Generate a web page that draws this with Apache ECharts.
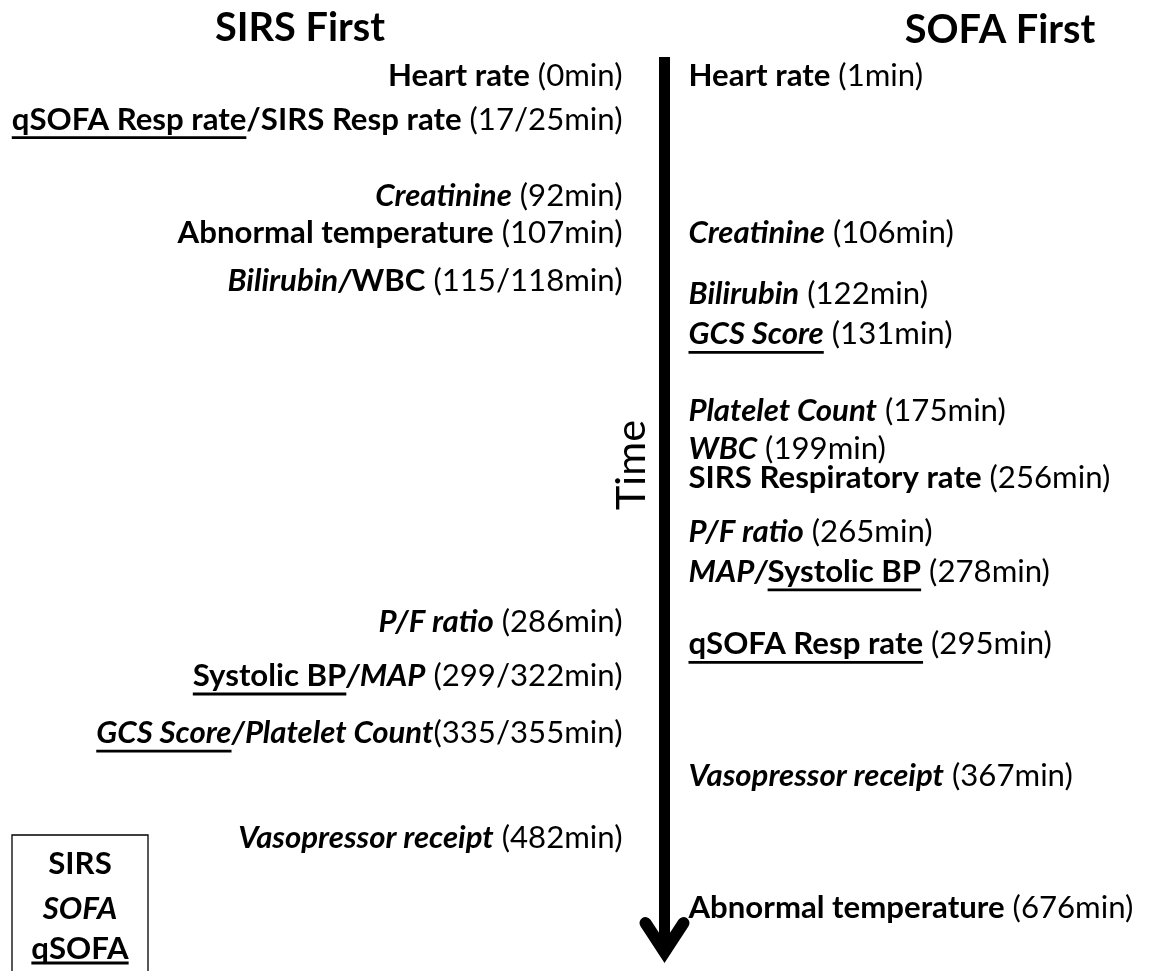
<!DOCTYPE html>
<html>
<head>
<meta charset="utf-8">
<script src="https://cdn.jsdelivr.net/npm/echarts@6/dist/echarts.min.js"></script>
<style>
html,body{margin:0;padding:0;background:#fff;}
#chart{width:1165px;height:971px;}
</style>
</head>
<body>
<div id="chart"></div>
<script>
// ---------------- DATA ----------------
// Column titles
const columnTitles = ['SIRS First', 'SOFA First'];
const axisName = 'Time';

// "SIRS First" column: event names, the score each one belongs to, minutes, place along the time arrow (% of arrow)
const sirsFirstItems = [
  ['Heart rate'],
  ['qSOFA Resp rate', 'SIRS Resp rate'],
  ['Creatinine'],
  ['Abnormal temperature'],
  ['Bilirubin', 'WBC'],
  ['P/F ratio'],
  ['Systolic BP', 'MAP'],
  ['GCS Score', 'Platelet Count'],
  ['Vasopressor receipt']
];
const sirsFirstScores = [
  ['SIRS'], ['qSOFA', 'SIRS'], ['SOFA'], ['SIRS'], ['SOFA', 'SIRS'],
  ['SOFA'], ['qSOFA', 'SOFA'], ['SOFA/qSOFA', 'SOFA'], ['SOFA']
];
const sirsFirstMinutes = [[0], [17, 25], [92], [107], [115, 118], [286], [299, 322], [335, 355], [482]];
const sirsFirstPlace = [2.0, 6.8, 15.2, 19.3, 24.6, 62.2, 68.2, 74.5, 86.1];
const sirsFirstNoSpace = [7]; // "Platelet Count(335/355min)" is written without a space

// "SOFA First" column
const sofaFirstItems = [
  ['Heart rate'],
  ['Creatinine'],
  ['Bilirubin'],
  ['GCS Score'],
  ['Platelet Count'],
  ['WBC'],
  ['SIRS Respiratory rate'],
  ['P/F ratio'],
  ['MAP', 'Systolic BP'],
  ['qSOFA Resp rate'],
  ['Vasopressor receipt'],
  ['Abnormal temperature']
];
const sofaFirstScores = [
  ['SIRS'], ['SOFA'], ['SOFA'], ['SOFA/qSOFA'], ['SOFA'], ['SOFA'],
  ['SIRS'], ['SOFA'], ['SOFA', 'qSOFA'], ['qSOFA'], ['SOFA'], ['SIRS']
];
const sofaFirstMinutes = [[1], [106], [122], [131], [175], [199], [256], [265], [278], [295], [367], [676]];
const sofaFirstPlace = [2.0, 19.3, 26.0, 30.5, 39.0, 43.2, 46.4, 52.3, 56.7, 64.7, 79.3, 93.8];
const sofaFirstNoSpace = [];

// Legend (key of text styles)
const legendScores = ['SIRS', 'SOFA', 'qSOFA'];

// The time arrow runs over the whole axis
const timeArrow = [0, 100];

// ---------------- HELPERS ----------------
const FAMILY = 'Lato, "Open Sans", "DejaVu Sans", sans-serif';
const measureCanvas = document.createElement('canvas');
const mctx = measureCanvas.getContext('2d');

function fontStr(italic, weight, size) {
  return (italic ? 'italic' : 'normal') + ' ' + weight + ' ' + size.toFixed(2) + 'px ' + FAMILY;
}
function textWidth(text, font) {
  mctx.font = font;
  return mctx.measureText(text).width;
}
function capMetrics(font) {
  mctx.font = font;
  mctx.textBaseline = 'middle';
  const m = mctx.measureText('H');
  return { asc: m.actualBoundingBoxAscent, desc: m.actualBoundingBoxDescent };
}

function buildSegments(names, scores, mins, tight) {
  const segs = [];
  names.forEach(function (n, j) {
    const tags = scores[j].split('/');
    const it = tags.indexOf('SOFA') >= 0;
    const ul = tags.indexOf('qSOFA') >= 0;
    if (j > 0) {
      const prevIt = segs[segs.length - 1].italic;
      segs.push({ text: '/', bold: true, italic: prevIt || it, underline: false });
    }
    segs.push({ text: n, bold: true, italic: it, underline: ul });
  });
  segs.push({ text: (tight ? '' : ' ') + '(' + mins.join('/') + 'min)', bold: false, italic: false, underline: false });
  return segs;
}

function segFont(seg, size) {
  return fontStr(seg.italic, seg.bold ? 'bold' : 'normal', size);
}

// Fit font sizes so the text widths match the figure
const refSegs = buildSegments(sirsFirstItems[1], sirsFirstScores[1], sirsFirstMinutes[1], false);
let w33 = 0;
refSegs.forEach(function (s) { w33 += textWidth(s.text, segFont(s, 33)); });
const LABEL_SIZE = Math.max(24, Math.min(36, 33 * 611 / w33));
const TITLE_SIZE = 40 * 170 / textWidth(columnTitles[0], fontStr(false, 'bold', 40));
const TIME_SIZE = 40 * 90 / textWidth(axisName, fontStr(false, 'normal', 40));

const capLabel = capMetrics(fontStr(false, 'bold', LABEL_SIZE));
const LABEL_SHIFT = -(capLabel.desc - capLabel.asc) / 2; // add to cap-centre y to get text 'middle' y
const UL_OFFSET = capLabel.desc + LABEL_SIZE * 0.26;      // underline below 'middle' y
const UL_WIDTH = 2.8;

const LEFT_GAP = 42;
const RIGHT_GAP = 24;

function makeLabelRenderer(items, scores, minutes, noSpace, side) {
  return function (params, api) {
    const i = api.value(2);
    const pt = api.coord([api.value(0), api.value(1)]);
    const segs = buildSegments(items[i], scores[i], minutes[i], noSpace.indexOf(i) >= 0);
    const widths = segs.map(function (s) { return textWidth(s.text, segFont(s, LABEL_SIZE)); });
    const total = widths.reduce(function (a, b) { return a + b; }, 0);
    let x = side === 'left' ? pt[0] - LEFT_GAP - total : pt[0] + RIGHT_GAP;
    const y = pt[1] + LABEL_SHIFT;
    const children = [];
    segs.forEach(function (s, k) {
      children.push({
        type: 'text', x: x, y: y,
        style: {
          text: s.text, font: segFont(s, LABEL_SIZE), fill: '#000',
          textAlign: 'left', align: 'left', textVerticalAlign: 'middle', verticalAlign: 'middle'
        }
      });
      if (s.underline) {
        children.push({
          type: 'line',
          shape: { x1: x, y1: y + UL_OFFSET, x2: x + widths[k], y2: y + UL_OFFSET },
          style: { stroke: '#000', lineWidth: UL_WIDTH }
        });
      }
      x += widths[k];
    });
    return { type: 'group', children: children };
  };
}

function renderArrow(params, api) {
  const top = api.coord([api.value(0), api.value(1)]);
  const bot = api.coord([api.value(0), api.value(2)]);
  const tipY = bot[1] - 11;
  return {
    type: 'group',
    children: [
      { type: 'line', shape: { x1: top[0], y1: top[1], x2: bot[0], y2: tipY },
        style: { stroke: '#000', lineWidth: 11, lineCap: 'butt' } },
      { type: 'polyline',
        shape: { points: [[bot[0] - 19, bot[1] - 40], [bot[0], tipY], [bot[0] + 19, bot[1] - 40]] },
        style: { stroke: '#000', fill: null, lineWidth: 12, lineJoin: 'miter', miterLimit: 10, lineCap: 'round' } }
    ]
  };
}

// ---------------- GRAPHIC (titles + key box) ----------------
const capTitle = capMetrics(fontStr(false, 'bold', TITLE_SIZE));
const TITLE_SHIFT = -(capTitle.desc - capTitle.asc) / 2;
const graphics = [
  { type: 'text', x: 300, y: 26.5 + TITLE_SHIFT,
    style: { text: columnTitles[0], font: fontStr(false, 'bold', TITLE_SIZE), fill: '#000',
      textAlign: 'center', align: 'center', textVerticalAlign: 'middle', verticalAlign: 'middle' } },
  { type: 'text', x: 1000, y: 28.5 + TITLE_SHIFT,
    style: { text: columnTitles[1], font: fontStr(false, 'bold', TITLE_SIZE), fill: '#000',
      textAlign: 'center', align: 'center', textVerticalAlign: 'middle', verticalAlign: 'middle' } },
  { type: 'rect', shape: { x: 12, y: 835, width: 136, height: 160 },
    style: { fill: '#fff', stroke: '#000', lineWidth: 1.3 } }
];
const legendY = [863, 908, 948];
legendScores.forEach(function (s, k) {
  const seg = { text: s, bold: true, italic: s === 'SOFA', underline: s === 'qSOFA' };
  const f = segFont(seg, LABEL_SIZE);
  const y = legendY[k] + LABEL_SHIFT;
  graphics.push({ type: 'text', x: 80, y: y,
    style: { text: s, font: f, fill: '#000', textAlign: 'center', align: 'center',
      textVerticalAlign: 'middle', verticalAlign: 'middle' } });
  if (seg.underline) {
    const w = textWidth(s, f);
    graphics.push({ type: 'line',
      shape: { x1: 80 - w / 2, y1: y + capLabel.desc + 4, x2: 80 + w / 2, y2: y + capLabel.desc + 4 },
      style: { stroke: '#000', lineWidth: UL_WIDTH } });
  }
});

// ---------------- CHART ----------------
const chart = echarts.init(document.getElementById('chart'), null, { renderer: 'canvas' });
chart.setOption({
  animation: false,
  backgroundColor: '#fff',
  grid: { left: 664.5, right: 20, top: 57, bottom: 8 },
  xAxis: { type: 'value', min: 0, max: 1, show: false },
  yAxis: {
    type: 'value', min: 0, max: 100, inverse: true,
    name: axisName, nameLocation: 'middle', nameRotate: 90, nameGap: 12,
    nameTextStyle: { fontFamily: FAMILY, fontSize: TIME_SIZE, fontWeight: 'normal', color: '#000',
      padding: [0, 0, 0, 90] },
    axisLine: { show: false }, axisTick: { show: false }, axisLabel: { show: false }, splitLine: { show: false }
  },
  graphic: graphics,
  series: [
    {
      type: 'custom', name: 'time arrow', renderItem: renderArrow,
      encode: { x: 0, y: [1, 2] },
      data: [[0, timeArrow[0], timeArrow[1]]], silent: true
    },
    {
      type: 'custom', name: 'SIRS First', renderItem: makeLabelRenderer(sirsFirstItems, sirsFirstScores, sirsFirstMinutes, sirsFirstNoSpace, 'left'),
      encode: { x: 0, y: 1 },
      data: sirsFirstPlace.map(function (p, i) { return [0, p, i]; }), silent: true
    },
    {
      type: 'custom', name: 'SOFA First', renderItem: makeLabelRenderer(sofaFirstItems, sofaFirstScores, sofaFirstMinutes, sofaFirstNoSpace, 'right'),
      encode: { x: 0, y: 1 },
      data: sofaFirstPlace.map(function (p, i) { return [0, p, i]; }), silent: true
    }
  ]
});
</script>
</body>
</html>
